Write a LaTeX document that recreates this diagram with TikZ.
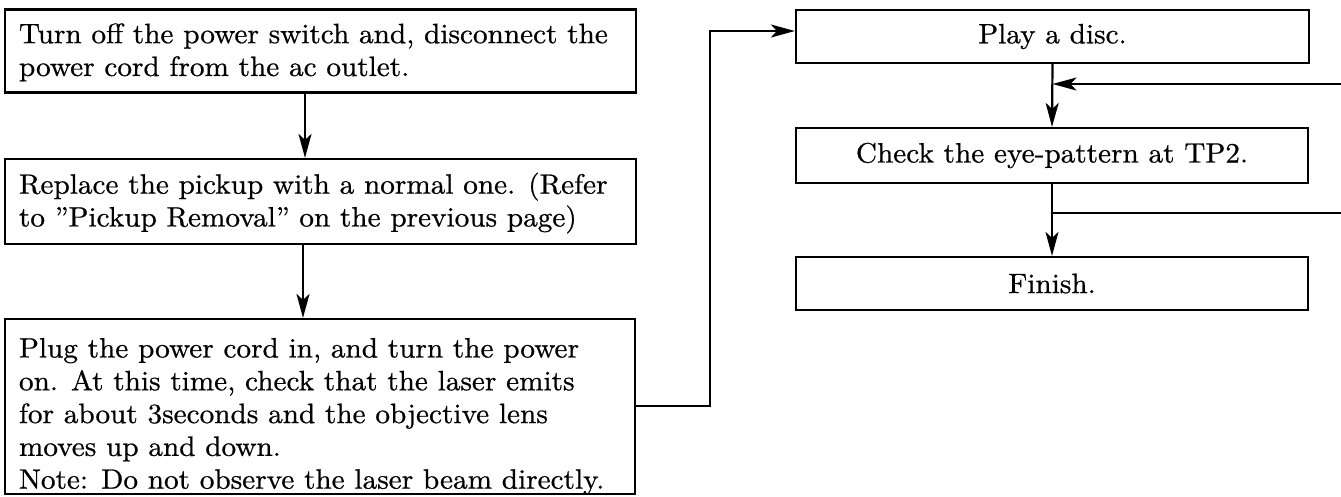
\documentclass[tikz,border=0pt]{standalone}
\usepackage{fontspec}
\setmainfont{lmroman10-regular.otf}[FakeStretch=1.045,FakeBold=0.7]
\usetikzlibrary{arrows.meta}
\newcommand{\lefttext}[3]{\raisebox{-#3}[\height][\depth]{\makebox[#1][l]{\begin{tabular}{@{}l@{}}#2\end{tabular}}}}
\begin{document}
\begin{tikzpicture}[x=1pt,y=-1pt,
  box/.style={draw,line width=2.2pt,rectangle,inner sep=0pt,font=\fontsize{28}{32.8}\selectfont},
  arr/.style={line width=2.2pt,-{Stealth[length=24pt,width=13pt,inset=6pt]}},
  ln/.style={line width=2.2pt}]
\useasboundingbox (0,0) rectangle (1341,496);
% left column
\node[box,minimum width=631pt,minimum height=83pt] (b1) at (320.5,51)
  {\lefttext{603pt}{Turn off the power switch and, disconnect the\\ power cord from the ac outlet.}{2pt}};
\node[box,minimum width=631pt,minimum height=85pt] (b2) at (320.5,201.5)
  {\lefttext{603pt}{Replace the pickup with a normal one. (Refer\\ to ''Pickup Removal'' on the previous page)}{2pt}};
\node[box,minimum width=630pt,minimum height=175pt] (b3) at (320,406.5)
  {\lefttext{602pt}{Plug the power cord in, and turn the power\\ on. At this time, check that the laser emits\\ for about 3seconds and the objective lens\\ moves up and down.\\ Note: Do not observe the laser beam directly.}{10pt}};
% right column
\node[box,minimum width=513pt,minimum height=53pt] (p) at (1052.5,36.5) {Play a disc.};
\node[box,minimum width=512pt,minimum height=55pt] (c) at (1052,155.5) {Check the eye-pattern at TP2.};
\node[box,minimum width=512pt,minimum height=53pt] (f) at (1052,283.5) {Finish.};
% coordinates
\coordinate (x1) at (305,0);
\coordinate (x2) at (303,0);
\coordinate (k1) at (710,406);
\coordinate (k2) at (710,31);
\coordinate (k3) at (0,31);
\coordinate (r1) at (1341,84);
\coordinate (r2) at (1341,213);
% connectors
\draw[arr] (b1.south -| x1) -- (b2.north -| x1);
\draw[arr] (b2.south -| x2) -- (b3.north -| x2);
\draw[arr] (b3.east |- k1) -- (k1) -- (k2) -- (p.west |- k3);
\draw[arr] (p.south) -- (c.north);
\draw[arr] (r1) -- (p.south |- r1);
\draw[arr] (c.south) -- (f.north);
\draw[ln] (c.south |- r2) -- (r2);
\end{tikzpicture}
\end{document}
